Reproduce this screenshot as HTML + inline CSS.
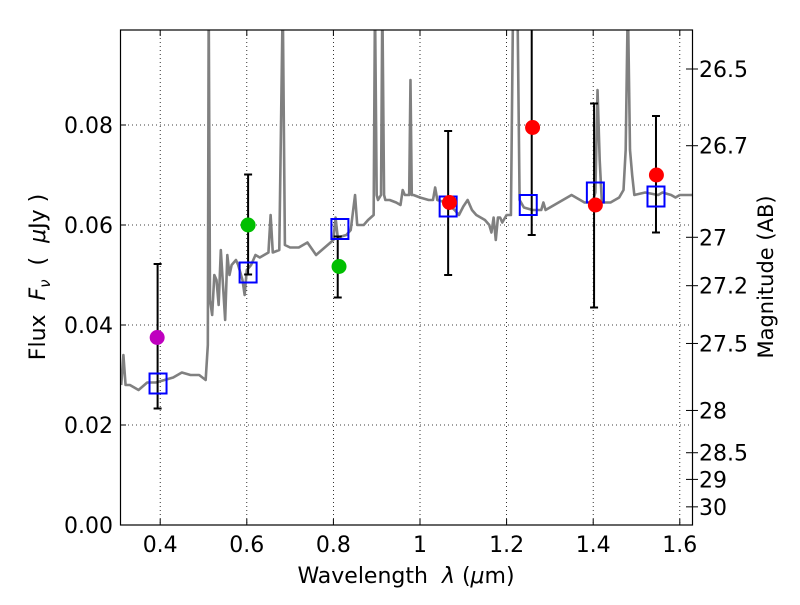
<!DOCTYPE html>
<html><head><meta charset="utf-8"><style>
body{margin:0;background:#fff;}
svg text{font-family:"DejaVu Sans","Liberation Sans",sans-serif;fill:#000;white-space:pre;}
</style></head><body>
<svg id="c" width="800" height="600" xmlns="http://www.w3.org/2000/svg">
<defs><clipPath id="clip"><rect x="120.5" y="30" width="572" height="495"/></clipPath></defs>
<g id="grid"></g>
<g id="spec" clip-path="url(#clip)"></g>
<g id="marks" clip-path="url(#clip)"></g>
<rect x="120.5" y="30" width="572" height="495" fill="none" stroke="#000" stroke-width="1.2"/>
<g id="axes"></g>
<text x="406" y="583" font-size="22" text-anchor="middle">Wavelength  <tspan font-style="italic">λ</tspan> (<tspan font-style="italic">μ</tspan>m)</text>
<text transform="translate(45,277) rotate(-90)" font-size="22" text-anchor="middle">Flux  <tspan font-style="italic">F</tspan><tspan font-style="italic" font-size="15" dy="5">ν</tspan><tspan dy="-5">  (  <tspan font-style="italic">μ</tspan>Jy )</tspan></text>
<text transform="translate(773,277) rotate(-90)" font-size="21" text-anchor="middle">Magnitude (AB)</text>
</svg>
<script>
const xTicks=[0.4,0.6,0.8,1.0,1.2,1.4,1.6];
const xTickLabels=["0.4","0.6","0.8","1","1.2","1.4","1.6"];
const yTicks=[0,0.02,0.04,0.06,0.08];
const yTickLabels=["0.00","0.02","0.04","0.06","0.08"];
const magTicks=[26.5,26.7,27,27.2,27.5,28,28.5,29,30];
const magTickLabels=["26.5","26.7","27","27.2","27.5","28","28.5","29","30"];
const specWave=[0.31,0.315,0.32,0.33,0.35,0.37,0.39,0.41,0.43,0.45,0.47,0.49,0.505,0.51,0.512,0.515,0.52,0.525,0.53,0.535,0.54,0.55,0.555,0.56,0.565,0.575,0.58,0.59,0.595,0.6,0.61,0.62,0.63,0.65,0.655,0.66,0.675,0.683,0.688,0.7,0.72,0.74,0.76,0.78,0.8,0.805,0.81,0.83,0.84,0.85,0.855,0.87,0.88,0.893,0.896,0.9,0.903,0.91,0.913,0.917,0.92,0.93,0.945,0.955,0.96,0.965,0.975,0.978,0.981,0.985,1.0,1.02,1.03,1.035,1.04,1.06,1.08,1.09,1.1,1.11,1.12,1.13,1.14,1.15,1.16,1.165,1.17,1.175,1.18,1.185,1.19,1.2,1.21,1.215,1.225,1.23,1.24,1.26,1.28,1.285,1.29,1.31,1.33,1.35,1.37,1.38,1.39,1.4,1.405,1.41,1.415,1.42,1.44,1.46,1.47,1.475,1.48,1.485,1.49,1.495,1.52,1.55,1.56,1.58,1.59,1.6,1.63];
const specFlux=[0.028,0.034,0.028,0.028,0.027,0.0285,0.0285,0.029,0.0295,0.0305,0.030,0.030,0.029,0.036,0.105,0.045,0.042,0.050,0.049,0.044,0.055,0.041,0.054,0.050,0.052,0.053,0.052,0.049,0.046,0.051,0.052,0.054,0.0535,0.0545,0.062,0.0545,0.055,0.105,0.056,0.0555,0.0555,0.0565,0.054,0.0555,0.057,0.0615,0.0575,0.058,0.059,0.066,0.060,0.060,0.061,0.062,0.105,0.066,0.065,0.066,0.105,0.066,0.065,0.065,0.0645,0.064,0.067,0.066,0.066,0.089,0.066,0.066,0.0655,0.065,0.065,0.0675,0.065,0.0645,0.063,0.062,0.0637,0.065,0.063,0.062,0.0615,0.061,0.060,0.0585,0.0615,0.057,0.0615,0.0615,0.0605,0.062,0.062,0.105,0.105,0.065,0.0635,0.063,0.063,0.0645,0.063,0.064,0.065,0.066,0.065,0.0645,0.0645,0.065,0.0665,0.087,0.073,0.0645,0.0645,0.0655,0.067,0.075,0.105,0.075,0.070,0.066,0.0665,0.066,0.0665,0.066,0.0655,0.066,0.066];
const obsWave=[0.393,0.603,0.813,1.068,1.26,1.405,1.546];
const obsFlux=[0.0375,0.060,0.0517,0.0645,0.0795,0.064,0.070];
const obsColor=["#bf00bf","#00bf00","#00bf00","#ff0000","#ff0000","#ff0000","#ff0000"];
const errWave=[0.394,0.603,0.81,1.065,1.258,1.402,1.545];
const errLow=[0.0233,0.0501,0.0455,0.050,0.058,0.0435,0.0585];
const errHigh=[0.0522,0.0701,0.0577,0.0788,0.105,0.0843,0.0818];
const modWave=[0.395,0.603,0.815,1.065,1.25,1.405,1.545];
const modFlux=[0.0283,0.0505,0.0592,0.0637,0.064,0.0665,0.0657];

const NS="http://www.w3.org/2000/svg";
const X=v=>420+(v-1)*433;
const Y=v=>525-v*5000;
const magToFlux=m=>Math.pow(10,(23.9-m)/2.5);
function mk(p,t,a){const e=document.createElementNS(NS,t);for(const k in a)e.setAttribute(k,a[k]);p.appendChild(e);return e;}
const grid=document.getElementById('grid'),axes=document.getElementById('axes');
xTicks.forEach((v,i)=>{
  const g=mk(grid,'line',{x1:X(v),x2:X(v),y1:30,y2:525,stroke:'#000','stroke-width':0.8,'stroke-dasharray':'1,3'});
  
  
  mk(axes,'line',{x1:X(v),x2:X(v),y1:525,y2:519,stroke:'#000'});
  mk(axes,'line',{x1:X(v),x2:X(v),y1:30,y2:36,stroke:'#000'});
  const t=mk(axes,'text',{x:X(v),y:552,'font-size':22,'text-anchor':'middle'});t.textContent=xTickLabels[i];
  
  
});
yTicks.forEach((v,i)=>{
  if(v>0){const g=mk(grid,'line',{x1:120,x2:692,y1:Y(v),y2:Y(v),stroke:'#000','stroke-width':0.8,'stroke-dasharray':'1,3'});
  
  }
  mk(axes,'line',{x1:120,x2:126,y1:Y(v),y2:Y(v),stroke:'#000'});
  const t=mk(axes,'text',{x:113,y:Y(v)+8,'font-size':22,'text-anchor':'end'});t.textContent=yTickLabels[i];
  
  
});
magTicks.forEach((m,i)=>{
  const y=Y(magToFlux(m));
  mk(axes,'line',{x1:686,x2:698,y1:y,y2:y,stroke:'#000'});
  const t=mk(axes,'text',{x:699,y:y+8,'font-size':22});t.textContent=magTickLabels[i];
  
  
});
const spec=document.getElementById('spec');
const pl=mk(spec,'polyline',{points:specWave.map((w,i)=>X(w)+','+Y(specFlux[i])).join(' '),fill:'none',stroke:'#808080','stroke-width':2.6,'stroke-linejoin':'round'});


const marks=document.getElementById('marks');
errWave.forEach((w,i)=>{
  const g=mk(marks,'g',{stroke:'#000','stroke-width':2});
  
  
  mk(g,'line',{x1:X(w),x2:X(w),y1:Y(errLow[i]),y2:Y(errHigh[i])});
  mk(g,'line',{x1:X(w)-4,x2:X(w)+4,y1:Y(errLow[i]),y2:Y(errLow[i])});
  mk(g,'line',{x1:X(w)-4,x2:X(w)+4,y1:Y(errHigh[i]),y2:Y(errHigh[i])});
});
modWave.forEach((w,i)=>{
  const r=mk(marks,'rect',{x:X(w)-8.5,y:Y(modFlux[i])-10,width:17,height:20,fill:'none',stroke:'#0000ff','stroke-width':2});
  
  
});
obsWave.forEach((w,i)=>{
  const c=mk(marks,'circle',{cx:X(w),cy:Y(obsFlux[i]),r:7.5,fill:obsColor[i]});
  
  
});
</script>
</body></html>
